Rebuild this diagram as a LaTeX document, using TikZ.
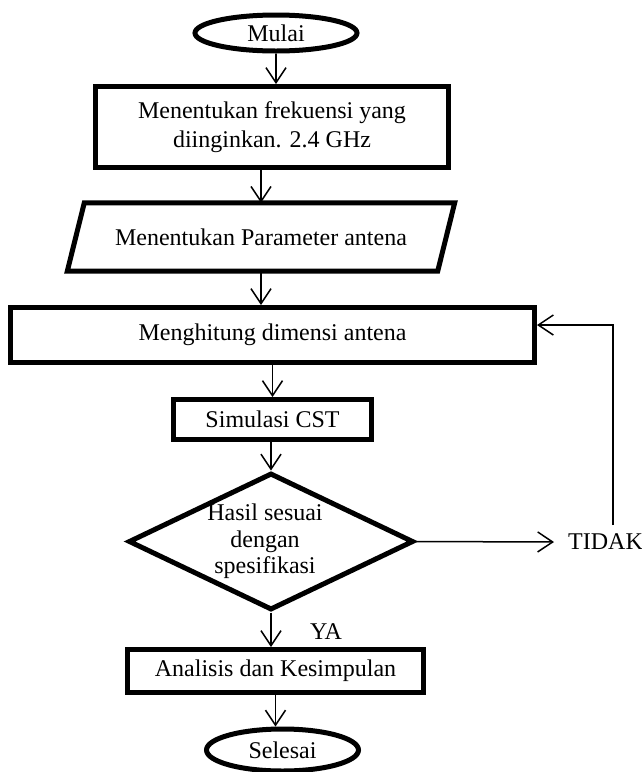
\documentclass[tikz,border=0pt]{standalone}
\usepackage{fontspec}
\setmainfont{Liberation Serif}
\usetikzlibrary{shapes.geometric,arrows.meta}

\begin{document}
\begin{tikzpicture}[
  x=1pt, y=-1pt,
  font=\fontsize{24}{29}\selectfont,
  myterm/.style={
    draw,
    ellipse,
    line width=5pt,
    inner sep=0pt
    },
  myrect/.style={
    draw,
    rectangle,
    line width=5pt,
    inner sep=0pt,
    align=center
    },
  mydecision/.style={
    draw,
    diamond,
    aspect=2.08,
    line width=5pt,
    inner sep=0pt,
    label={[align=center, font=\fontsize{24}{26.5}\selectfont, xshift=-6pt]center:#1}
    },
  myarrow/.style={
    line width=1.5pt,
    -{Straight Barb[length=15pt,width=20pt]}
  }
]
\useasboundingbox (0,0) rectangle (642,772);

\node[myterm, minimum width=162, minimum height=36] (mulai) at (276,33) {Mulai};
\node[myrect, minimum width=353, minimum height=81] (frekuensi) at (272,127)
  {Menentukan frekuensi yang\\diinginkan. 2.4 GHz};
\node[rectangle, inner sep=0pt, minimum width=370, minimum height=68] (parameter) at (261,237)
  {Menentukan Parameter antena};
\draw[line width=5pt]
  ([xshift=8.5]parameter.north west) -- ([xshift=8.5]parameter.north east) --
  ([xshift=-8.5]parameter.south east) -- ([xshift=-8.5]parameter.south west) -- cycle;
\node[myrect, minimum width=524, minimum height=55] (dimensi) at (272.5,335) {Menghitung dimensi antena};
\node[myrect, minimum width=198, minimum height=40] (simulasi) at (272.5,419.5) {Simulasi CST};
\node[mydecision={Hasil sesuai\\dengan\\spesifikasi}, minimum width=285, minimum height=137] (hasil) at (271,541.5) {};
\node[anchor=west, inner sep=0pt] (tidak) at (568,542) {TIDAK};
\node (ya) at (326,632) {YA};
\node[myrect, minimum width=296, minimum height=43] (analisis) at (275.5,671) {Analisis dan Kesimpulan};
\node[myterm, minimum width=152, minimum height=42] (selesai) at (282.5,750) {Selesai};
\coordinate (balik) at (613,525);

\draw[myarrow] (mulai.south) -- (mulai.south |- frekuensi.north);
\draw[myarrow] (parameter.north |- frekuensi.south) -- (parameter.north);
\draw[myarrow] (parameter.south) -- (parameter.south |- dimensi.north);
\draw[myarrow] (simulasi.north |- dimensi.south) -- (simulasi.north);
\draw[myarrow] (hasil.north |- simulasi.south) -- (hasil.north);
\draw[myarrow] (hasil.south) -- (hasil.south |- analisis.north);
\draw[myarrow] (analisis.south) -- (analisis.south |- selesai.north);
\draw[myarrow] (hasil.east) -- ([xshift=-14]tidak.west);
\draw[myarrow] (balik) |- ([yshift=10]dimensi.east);

\end{tikzpicture}
\end{document}
